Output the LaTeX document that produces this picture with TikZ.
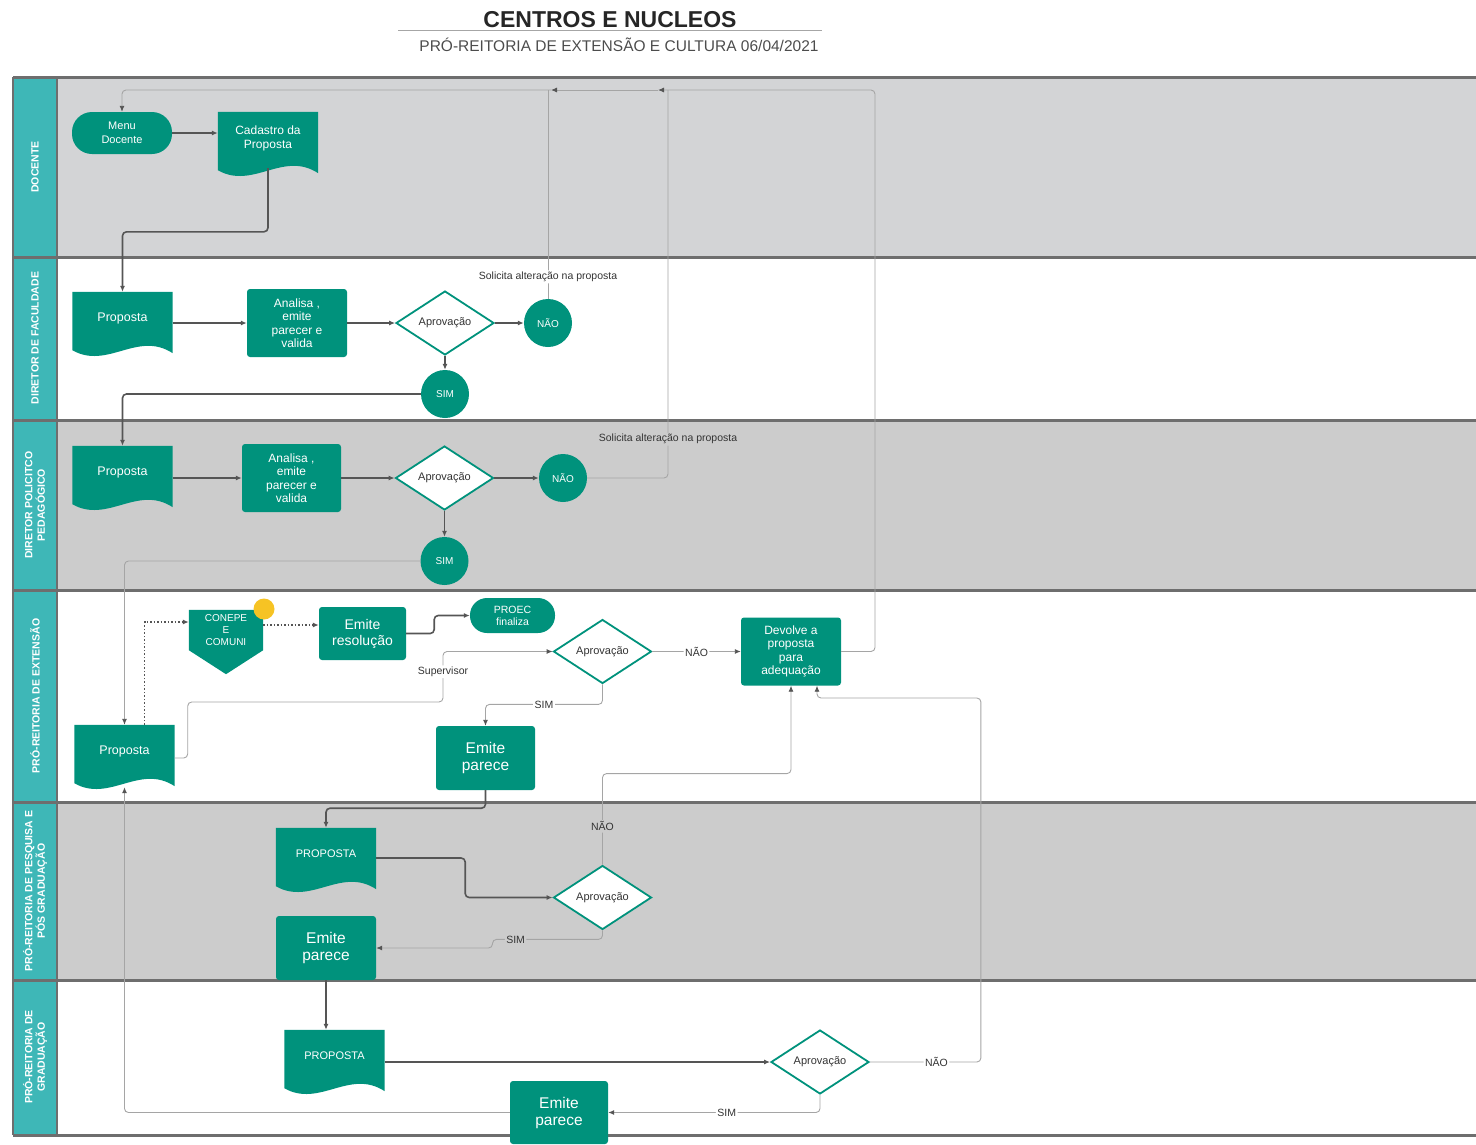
\documentclass[tikz,border=0pt]{standalone}
\usepackage{fontspec}
\setmainfont{Liberation Sans}
\usepackage{tikz}
\usetikzlibrary{shapes.geometric,arrows.meta,calc,backgrounds}

\definecolor{nodeteal}{RGB}{0,146,124}
\definecolor{laneteal}{RGB}{62,183,183}
\definecolor{lanegrayA}{RGB}{211,212,214}
\definecolor{lanegrayB}{RGB}{204,204,204}
\definecolor{sepgray}{RGB}{110,110,110}
\definecolor{linkdark}{RGB}{85,85,85}
\definecolor{linklight}{RGB}{165,165,165}
\definecolor{flagyellow}{RGB}{246,195,36}

\pgfdeclarelayer{lanes}
\pgfsetlayers{lanes,background,main}

\newcommand\docfill[1]{%
  \fill[nodeteal] let \p1=(#1.north west), \p2=(#1.south east) in
    (\x1,\y2-6pt) -- (\x1,\y1) -- (\x2,\y1) -- (\x2,\y2-9pt)
    .. controls ({\x1+0.65*(\x2-\x1)},\y2+14pt) and ({\x1+0.35*(\x2-\x1)},\y2-26pt) .. (\x1,\y2-6pt) -- cycle;}
\newcommand\pentfill[1]{%
  \fill[nodeteal] (#1.north west) -- (#1.north east) -- (#1.south east)
    -- ([yshift=-24pt]#1.south) -- (#1.south west) -- cycle;}

\tikzset{
  lanetext/.style={rotate=90,text=white,align=center,inner sep=0pt,font=\bfseries\fontsize{10.5}{12.5}\selectfont},
  nodetext/.style={text=white,align=center,inner sep=0pt},
  procbox/.style={nodetext,rectangle,fill=nodeteal,rounded corners=3pt,font=\fontsize{12}{13.5}\selectfont},
  bigbox/.style={procbox,font=\fontsize{15.5}{17}\selectfont},
  termbox/.style={nodetext,rectangle,fill=nodeteal,rounded corners=20pt,font=\fontsize{11}{14}\selectfont},
  docbox/.style={nodetext,rectangle,minimum width=100pt,minimum height=52pt,font=\fontsize{12.5}{14}\selectfont},
  decbox/.style={diamond,draw=nodeteal,line width=1.8pt,fill=white,inner sep=0pt,
    minimum width=98pt,minimum height=64pt,text=black!80,font=\fontsize{11}{12}\selectfont},
  yesno/.style={circle,fill=nodeteal,text=white,minimum size=48pt,inner sep=0pt,font=\fontsize{10}{11}\selectfont},
  darklink/.style={draw=linkdark,line width=1.6pt,rounded corners=4pt,-{Latex[length=6pt,width=5pt]}},
  lightline/.style={draw=linklight,line width=0.9pt,rounded corners=4pt},
  lightlink/.style={lightline,-{Latex[length=6pt,width=5pt,color=linkdark]}},
  dotlink/.style={draw=linkdark,line width=1.5pt,dotted,-{Latex[length=6pt,width=5pt]}},
  linklabel/.style={fill=white,inner sep=1.5pt,text=black!80,font=\fontsize{10.5}{12}\selectfont}
}

\begin{document}
\begin{tikzpicture}[x=1pt,y=-1pt]
\useasboundingbox (0,0) rectangle (1476,1144);

\node[font=\bfseries\fontsize{23}{26}\selectfont,text=black!85] (title) at (610,20) {CENTROS E NUCLEOS};
\draw[black!35,line width=1pt] (398,30) -- (822,30);
\node[font=\fontsize{15.5}{18}\selectfont,text=black!70] (sub) at (619,45) {PRÓ-REITORIA DE EXTENSÃO E CULTURA 06/04/2021};

\begin{pgfonlayer}{lanes}
\fill[lanegrayA] (57,77) rectangle (1476,257);
\fill[lanegrayB] (57,420) rectangle (1476,590);
\fill[lanegrayB] (57,802) rectangle (1476,980);
\fill[laneteal] (13,77) rectangle (57,1135);
\foreach \ly in {77,257,420,590,802,980,1135}
  \draw[sepgray,line width=3pt] (13,\ly) -- (1476,\ly);
\draw[sepgray,line width=2pt] (13,77) -- (13,1135) (57,77) -- (57,1135);
\node[lanetext] (ln1) at (35,167) {DOCENTE};
\node[lanetext] (ln2) at (35,338) {DIRETOR DE FACULDADE};
\node[lanetext] (ln3) at (35,505) {DIRETOR POLICITCO\\PEDAGÓGICO};
\node[lanetext] (ln4) at (35,696) {PRÓ-REITORIA DE EXTENSÃO};
\node[lanetext] (ln5) at (35,891) {PRÓ-REITORIA DE PESQUISA E\\PÓS GRADUAÇÃO};
\node[lanetext] (ln6) at (35,1057) {PRÓ-REITORIA DE\\GRADUAÇÃO};
\end{pgfonlayer}

\node[termbox,minimum width=100pt,minimum height=42pt] (menu) at (122,133) {Menu\\Docente};
\node[docbox,font=\fontsize{12}{14}\selectfont] (cad) at (268,138) {Cadastro da\\Proposta};

\node[docbox] (prop1) at (122.5,318) {Proposta};
\node[procbox,minimum width=100pt,minimum height=68pt] (ana1) at (297,323) {Analisa ,\\emite\\parecer e\\valida};
\node[decbox] (dec1) at (445,323) {Aprovação};
\node[yesno] (nao1) at (548,323) {NÃO};
\node[yesno] (sim1) at (445,394) {SIM};

\node[docbox] (prop2) at (122.5,472) {Proposta};
\node[procbox,minimum width=99pt,minimum height=68pt] (ana2) at (291.5,478) {Analisa ,\\emite\\parecer e\\valida};
\node[decbox] (dec2) at (444.5,478) {Aprovação};
\node[yesno] (nao2) at (563,478) {NÃO};
\node[yesno] (sim2) at (444.5,561) {SIM};

\node[docbox] (prop3) at (124.5,751) {Proposta};
\node[nodetext,minimum width=74pt,minimum height=40pt,font=\fontsize{10}{12}\selectfont] (conepe) at (226,630) {CONEPE\\E\\COMUNI};
\node[circle,fill=flagyellow,minimum size=21pt,inner sep=0pt] (flag) at (264,609) {};
\node[procbox,font=\fontsize{14}{16}\selectfont,minimum width=87pt,minimum height=53pt] (emres) at (362.5,633.5) {Emite\\resolução};
\node[termbox,font=\fontsize{10.5}{12}\selectfont,minimum width=85pt,minimum height=35pt,rounded corners=17pt] (proec) at (512.5,615.5) {PROEC\\finaliza};
\node[decbox] (dec3) at (602.5,651.5) {Aprovação};
\node[procbox,minimum width=100pt,minimum height=68pt] (devolve) at (791,651.5) {Devolve a\\proposta\\para\\adequação};
\node[bigbox,minimum width=99pt,minimum height=64pt] (empar1) at (485.5,758) {Emite\\parece};

\node[docbox,font=\fontsize{11}{13}\selectfont] (prop4) at (326,854) {PROPOSTA};
\node[decbox] (dec4) at (602.5,897.5) {Aprovação};
\node[bigbox,minimum width=100pt,minimum height=64pt] (empar2) at (326,948) {Emite\\parece};

\node[docbox,font=\fontsize{11}{13}\selectfont] (prop5) at (334.5,1056) {PROPOSTA};
\node[decbox] (dec5) at (820,1062) {Aprovação};
\node[bigbox,minimum width=98pt,minimum height=63pt] (empar3) at (559,1112.5) {Emite\\parece};

\begin{pgfonlayer}{background}
\foreach \d in {cad,prop1,prop2,prop3,prop4,prop5} {\docfill{\d}}
\pentfill{conepe}
\end{pgfonlayer}

\coordinate (ret) at (875,90);
\coordinate (up2) at (668,90);
\coordinate (j2) at (658,90);
\coordinate (j1) at (551,90);
\coordinate (sup) at (443,702);

\draw[darklink] (menu.east) -- (menu.east -| cad.west);
\draw[darklink] ([yshift=-4pt]cad.south) |- ($(prop1.north)+(0,-60)$) -- (prop1.north);

\draw[darklink] (prop1.east |- ana1.west) -- (ana1.west);
\draw[darklink] (ana1.east) -- (dec1.west);
\draw[darklink] (dec1.east) -- (nao1.west);
\draw[darklink] (dec1.south) -- (sim1.north);
\draw[darklink] (sim1.west) -| (prop2.north);
\draw[lightline] (nao1.north) -- node[linklabel,pos=0.105] {Solicita alteração na proposta} (nao1.north |- j1);

\draw[darklink] (prop2.east |- ana2.west) -- (ana2.west);
\draw[darklink] (ana2.east) -- (dec2.west);
\draw[darklink] (dec2.east) -- (nao2.west);
\draw[darklink] (dec2.south) -- (sim2.north);
\draw[lightline] (nao2.east) -| node[linklabel,fill=lanegrayB,pos=0.55] {Solicita alteração na proposta} (up2);
\draw[lightlink] (sim2.west) -| (prop3.north);

\draw[lightlink] (devolve.east) -| (ret) -- (j2);
\draw[lightlink] (j2) -- (j1);
\draw[lightlink] (j1) -| (menu.north);

\draw[dotlink] ([xshift=20pt]prop3.north) |- ([yshift=8pt]conepe.west);
\draw[dotlink] ($(conepe.east)+(0,-5)$) -- ($(emres.west)+(0,-8.5)$);
\draw[darklink] (emres.east) -- ++(28,0) |- (proec.west);
\draw[lightlink] ([yshift=-7pt]prop3.east) -- ++(13,0) |- (sup) |- node[linklabel,pos=0.3] {Supervisor} (dec3.west);
\draw[lightlink] (dec3.east) -- node[linklabel] {NÃO} (devolve.west);
\draw[lightlink] (dec3.south) -- ++(0,20) -| node[linklabel,pos=0.25] {SIM} (empar1.north);
\draw[darklink] (empar1.south) -- ++(0,18) -| (prop4.north);

\draw[darklink] ([yshift=-4pt]prop4.east) -- ++(89,0) |- (dec4.west);
\draw[lightlink] (dec4.north) -- node[linklabel,fill=lanegrayB,pos=0.42] {NÃO} ++(0,-91) -| (devolve.south);
\draw[lightlink] (dec4.south) -- ++(0,9) -- node[linklabel,fill=lanegrayB,pos=0.79] {SIM} ++(-110,0) |- (empar2.east);
\draw[darklink] (empar2.south) -- (empar2.south |- prop5.north);

\draw[darklink] (prop5.east |- dec5.west) -- (dec5.west);
\draw[lightlink] (dec5.east) -- node[linklabel,pos=0.6] {NÃO} ++(111,0) -- ++(0,-364) -| ([xshift=26pt]devolve.south);
\draw[lightlink] (dec5.south) |- node[linklabel,pos=0.72] {SIM} (empar3.east);
\draw[lightlink] (empar3.west) -| ([yshift=-10pt]prop3.south);
\end{tikzpicture}
\end{document}
